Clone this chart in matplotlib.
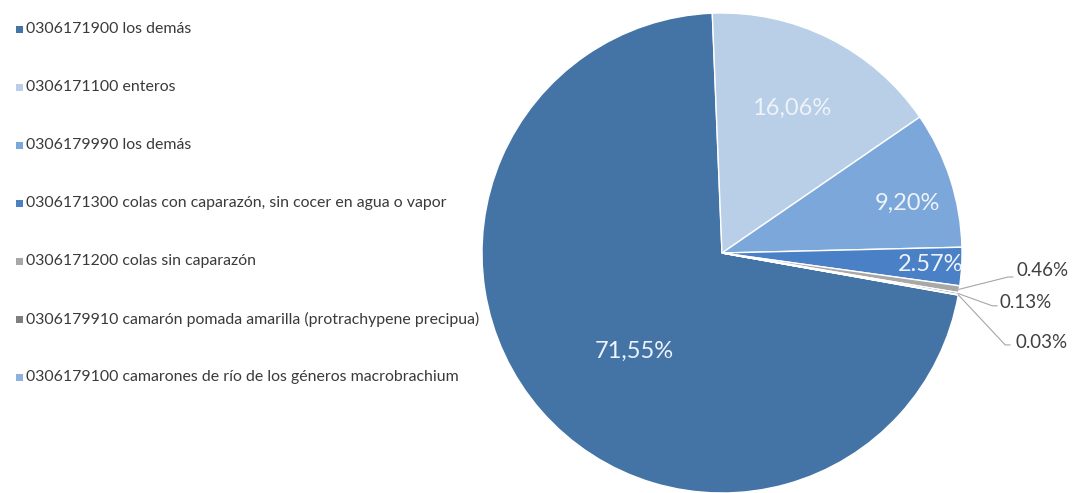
import numpy as np
import matplotlib
matplotlib.use("Agg")
from matplotlib import pyplot as plt
from matplotlib.patches import Rectangle

# tariff lines and their share of the total
codes = ["0306171900", "0306171100", "0306179990", "0306171300",
         "0306171200", "0306179910", "0306179100"]
descriptions = ["los demás",
                "enteros",
                "los demás",
                "colas con caparazón, sin cocer en agua o vapor",
                "colas sin caparazón",
                "camarón pomada amarilla (protrachypene precipua)",
                "camarones de río de los géneros macrobrachium"]
shares = [71.55, 16.06, 9.20, 2.57, 0.46, 0.13, 0.03]
separators = [",", ",", ",", ".", ".", ".", "."]
colors = ["#4474A6", "#B8CFE7", "#7BA7DA", "#4A80C6", "#A8A8A8", "#7F7F7F", "#8FB2DC"]

W, H = 1073, 493
legend_font = ["Lato", "DejaVu Sans"]
pct_font = ["Lato", "DejaVu Sans"]

fig = plt.figure(figsize=(W / 100, H / 100), dpi=100)
fig.patch.set_facecolor("white")

# pie: centre at (722, 253) px, radius 240 px
cx, cy, R = 722, 253, 240
ax = fig.add_axes([(cx - R) / W, (H - cy - R) / H, 2 * R / W, 2 * R / H])
wedges, _ = ax.pie(shares, colors=colors, startangle=-10.1, counterclock=False,
                   wedgeprops=dict(edgecolor="white", linewidth=1.0))
ax.set_xlim(-1, 1)
ax.set_ylim(-1, 1)
ax.axis("off")

labels = [f"{v:.2f}".replace(".", s) + "%" for v, s in zip(shares, separators)]

# labels inside the big slices (distance from centre, angle nudge in degrees)
inner_dist = [0.55, 0.67, 0.80, 0.87]
inner_nudge = [7, 1, -3, 0]
for w, lab, d, dn in zip(wedges[:4], labels[:4], inner_dist, inner_nudge):
    ang = np.deg2rad((w.theta1 + w.theta2) / 2 + dn)
    ax.text(d * np.cos(ang), d * np.sin(ang), lab, ha="center", va="center",
            fontsize=17, color="#EEF3F9", family=pct_font)

# small slices get leader lines out to the right
out_text = [(1.229, -0.075), (1.158, -0.208), (1.221, -0.371)]
out_elbow = [(1.212, -0.10), (1.146, -0.22), (1.20, -0.383)]
for w, lab, (tx, ty), (ex, ey) in zip(wedges[4:], labels[4:], out_text, out_elbow):
    ang = np.deg2rad((w.theta1 + w.theta2) / 2)
    x0, y0 = np.cos(ang), np.sin(ang)
    ax.plot([x0, ex - 0.02, ex], [y0, ey, ey], color="#A6A6A6", lw=0.8,
            clip_on=False)
    ax.text(tx, ty, lab, ha="left", va="center", fontsize=13.5,
            color="#404040", family=pct_font, clip_on=False)

# legend down the left side
for i, (code, desc, c) in enumerate(zip(codes, descriptions, colors)):
    y = 29 + i * 58
    fig.patches.append(Rectangle((16 / W, 1 - (y + 4) / H), 7 / W, 7 / H,
                                 transform=fig.transFigure, facecolor=c,
                                 edgecolor="none"))
    fig.text(26 / W, 1 - y / H, f"{code} {desc}", ha="left", va="center",
             fontsize=11.4, color="#3A3A3A", family=legend_font)

fig.savefig("out.png", dpi=100)
